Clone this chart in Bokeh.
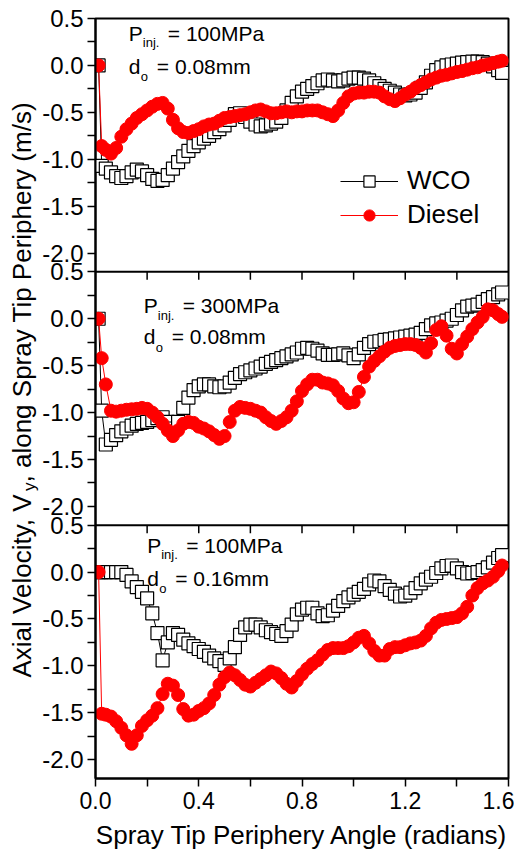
import math
from bokeh.plotting import figure
from bokeh.layouts import row
from bokeh.models import (Range1d, FixedTicker, PrintfTickFormatter, Span, Label,
                          Legend, LegendItem)
from bokeh.embed import file_html
from bokeh.resources import INLINE

# ---------------- data ----------------
ANGLE = [0.012, 0.024, 0.04, 0.06, 0.08, 0.10, 0.12, 0.14, 0.16, 0.18,
         0.20, 0.22, 0.24, 0.26, 0.28, 0.30, 0.32, 0.34, 0.36, 0.38,
         0.40, 0.42, 0.44, 0.46, 0.48, 0.50, 0.52, 0.54, 0.56, 0.58,
         0.60, 0.62, 0.64, 0.66, 0.68, 0.70, 0.72, 0.74, 0.76, 0.78,
         0.80, 0.82, 0.84, 0.86, 0.88, 0.90, 0.92, 0.94, 0.96, 0.98,
         1.00, 1.02, 1.04, 1.06, 1.08, 1.10, 1.12, 1.14, 1.16, 1.18,
         1.20, 1.22, 1.24, 1.26, 1.28, 1.30, 1.32, 1.34, 1.36, 1.38,
         1.40, 1.42, 1.44, 1.46, 1.48, 1.50, 1.52, 1.54, 1.56, 1.575]

# Panel 1: P_inj = 100 MPa, d_o = 0.08 mm
TOP_WCO = [0.0, -1.07, -1.10, -1.14, -1.18, -1.20, -1.18, -1.14, -1.11, -1.13,
           -1.17, -1.21, -1.23, -1.22, -1.17, -1.10, -1.03, -0.97, -0.91, -0.86,
           -0.82, -0.78, -0.75, -0.71, -0.68, -0.64, -0.58, -0.52, -0.51, -0.55,
           -0.60, -0.63, -0.65, -0.64, -0.62, -0.60, -0.56, -0.48, -0.40, -0.33,
           -0.28, -0.25, -0.22, -0.19, -0.16, -0.15, -0.16, -0.17, -0.16, -0.14,
           -0.13, -0.13, -0.14, -0.16, -0.19, -0.22, -0.25, -0.27, -0.29, -0.31,
           -0.32, -0.31, -0.29, -0.24, -0.18, -0.11, -0.05, -0.02, 0.0, 0.01,
           0.02, 0.03, 0.035, 0.04, 0.04, 0.035, 0.02, -0.01, -0.05, -0.08]
TOP_DIESEL = [0.0, -0.86, -0.90, -0.94, -0.88, -0.76, -0.68, -0.62, -0.56, -0.52,
              -0.48, -0.44, -0.41, -0.40, -0.46, -0.58, -0.67, -0.71, -0.72, -0.70,
              -0.68, -0.65, -0.63, -0.62, -0.59, -0.56, -0.55, -0.54, -0.53, -0.52,
              -0.50, -0.48, -0.47, -0.49, -0.51, -0.51, -0.50, -0.49, -0.50, -0.49,
              -0.49, -0.48, -0.48, -0.48, -0.50, -0.52, -0.54, -0.48, -0.40, -0.33,
              -0.30, -0.29, -0.29, -0.28, -0.28, -0.29, -0.33, -0.36, -0.38, -0.35,
              -0.31, -0.28, -0.24, -0.21, -0.18, -0.15, -0.13, -0.11, -0.10, -0.085,
              -0.07, -0.06, -0.045, -0.03, -0.02, 0.0, 0.01, 0.025, 0.04, 0.05]

# Panel 2: P_inj = 300 MPa, d_o = 0.08 mm
MID_WCO = [0.0, -0.98, -1.34, -1.29, -1.24, -1.20, -1.17, -1.14, -1.12, -1.11,
           -1.10, -1.08, -1.06, -1.05, -1.10, -1.17, -1.10, -0.95, -0.84, -0.76,
           -0.72, -0.70, -0.70, -0.72, -0.73, -0.72, -0.68, -0.63, -0.59, -0.57,
           -0.55, -0.53, -0.51, -0.48, -0.46, -0.44, -0.42, -0.40, -0.38, -0.36,
           -0.32, -0.31, -0.32, -0.34, -0.37, -0.385, -0.385, -0.38, -0.37, -0.39,
           -0.42, -0.38, -0.31, -0.27, -0.245, -0.24, -0.225, -0.22, -0.21, -0.20,
           -0.19, -0.18, -0.17, -0.15, -0.11, -0.07, -0.05, -0.04, -0.02, 0.0,
           0.04, 0.09, 0.13, 0.14, 0.15, 0.18, 0.21, 0.23, 0.26, 0.28]
MID_DIESEL = [0.0, -0.42, -0.70, -0.98, -0.99, -0.98, -0.97, -0.965, -0.96, -0.95,
              -0.96, -1.00, -1.05, -1.12, -1.19, -1.25, -1.19, -1.12, -1.10, -1.11,
              -1.15, -1.17, -1.20, -1.24, -1.28, -1.25, -1.10, -0.98, -0.94, -0.95,
              -0.96, -0.98, -1.00, -1.05, -1.09, -1.12, -1.09, -1.05, -0.98, -0.88,
              -0.77, -0.70, -0.65, -0.65, -0.68, -0.69, -0.71, -0.77, -0.85, -0.90,
              -0.89, -0.78, -0.62, -0.51, -0.45, -0.40, -0.35, -0.31, -0.29, -0.28,
              -0.27, -0.27, -0.28, -0.31, -0.36, -0.26, -0.12, -0.08, -0.18, -0.32,
              -0.37, -0.27, -0.19, -0.11, -0.04, 0.02, 0.10, 0.09, 0.05, 0.02]

# Panel 3: P_inj = 100 MPa, d_o = 0.16 mm
BOT_WCO = [0.0, 0.0, 0.0, 0.0, 0.0, 0.0, -0.03, -0.10, -0.16, -0.21,
           -0.28, -0.44, -0.65, -0.94, -0.75, -0.65, -0.67, -0.72, -0.76, -0.79,
           -0.82, -0.85, -0.89, -0.92, -0.95, -0.99, -0.92, -0.80, -0.67, -0.59,
           -0.56, -0.56, -0.59, -0.62, -0.64, -0.66, -0.68, -0.63, -0.56, -0.45,
           -0.40, -0.38, -0.38, -0.44, -0.47, -0.46, -0.41, -0.36, -0.31, -0.27,
           -0.24, -0.21, -0.18, -0.13, -0.09, -0.10, -0.15, -0.19, -0.23, -0.26,
           -0.25, -0.22, -0.17, -0.12, -0.08, -0.05, -0.01, 0.04, 0.065, 0.07,
           0.04, 0.0, -0.015, -0.01, 0.0, 0.02, 0.05, 0.10, 0.15, 0.18]
BOT_DIESEL = [0.0, -1.51, -1.52, -1.54, -1.59, -1.66, -1.74, -1.83, -1.74, -1.64,
              -1.58, -1.53, -1.45, -1.30, -1.19, -1.21, -1.31, -1.46, -1.53, -1.52,
              -1.48, -1.45, -1.40, -1.31, -1.20, -1.12, -1.07, -1.10, -1.15, -1.20,
              -1.22, -1.18, -1.14, -1.10, -1.06, -1.08, -1.13, -1.19, -1.23, -1.16,
              -1.09, -1.03, -0.98, -0.94, -0.88, -0.83, -0.81, -0.81, -0.81, -0.79,
              -0.75, -0.70, -0.68, -0.76, -0.84, -0.89, -0.89, -0.82, -0.80, -0.80,
              -0.78, -0.76, -0.75, -0.73, -0.68, -0.60, -0.54, -0.51, -0.50, -0.49,
              -0.48, -0.44, -0.37, -0.25, -0.17, -0.12, -0.09, -0.05, 0.01, 0.07]

PANEL_PRESSURE = ["100MPa", "300MPa", "100MPa"]
PANEL_DIAMETER = ["0.08mm", "0.08mm", "0.16mm"]
SERIES_NAMES = ["WCO", "Diesel"]

X_TICKS = [0.0, 0.4, 0.8, 1.2, 1.6]
X_MINOR = [0.2, 0.6, 1.0, 1.4]
Y_TICKS = [0.5, 0.0, -0.5, -1.0, -1.5, -2.0]
Y_MINOR = [0.25, -0.25, -0.75, -1.25, -1.75]

# ---------------- layout of the three stacked panels ----------------
Y_LO, Y_HI = -2.2, 0.5
SPAN = Y_HI - Y_LO
N_PANELS = 3
RANGE_NAMES = ["default", "mid", "bot"]
SHIFT = [i * SPAN for i in range(N_PANELS)]

FONT = "Liberation Sans"
TITLE_W = 39
FRAME_LEFT = 95
FRAME_TOP = 18
FRAME_H = 760
BORDER_BOTTOM = 74
MID_FRAC = 0.3465   # distance of the text-box middle above the baseline, in em

p = figure(frame_width=413, frame_height=FRAME_H,
           x_range=Range1d(0, 1.6),
           y_range=Range1d(Y_LO - (N_PANELS - 1) * SPAN, Y_HI),
           output_backend="svg", toolbar_location=None,
           min_border_left=FRAME_LEFT - TITLE_W, min_border_top=FRAME_TOP,
           min_border_right=6, min_border_bottom=BORDER_BOTTOM)
p.extra_y_ranges = {
    "mid": Range1d(Y_LO - (N_PANELS - 1) * SPAN + SHIFT[1], Y_HI + SHIFT[1]),
    "bot": Range1d(Y_LO - (N_PANELS - 1) * SPAN + SHIFT[2], Y_HI + SHIFT[2]),
}

p.xgrid.visible = False
p.ygrid.visible = False
p.outline_line_color = "black"
p.outline_line_width = 2
p.outline_line_alpha = 1.0
p.background_fill_color = "white"
p.border_fill_color = "white"

# y axis: one axis carrying the ticks of all three panels
major = []
overrides = {}
minor = []
for s in SHIFT:
    for v in Y_TICKS:
        tk = round(v - s, 4)
        major.append(tk)
        overrides[tk] = f"{v:.1f}"
    for v in Y_MINOR:
        minor.append(round(v - s, 4))
yax = p.yaxis[0]
yax.ticker = FixedTicker(ticks=major, minor_ticks=minor)
yax.major_label_overrides = overrides
yax.axis_line_color = "black"
yax.axis_line_width = 2
yax.major_tick_out = 8
yax.major_tick_in = 0
yax.minor_tick_out = 8
yax.minor_tick_in = 0
yax.major_tick_line_width = 1.5
yax.minor_tick_line_width = 1.5
yax.major_label_text_font = FONT
yax.major_label_text_font_size = "24px"
yax.major_label_text_color = "black"
yax.major_label_standoff = 4

xax = p.xaxis[0]
xax.ticker = FixedTicker(ticks=X_TICKS, minor_ticks=X_MINOR)
xax.formatter = PrintfTickFormatter(format="%.1f")
xax.axis_line_color = "black"
xax.axis_line_width = 2
xax.major_tick_out = 8
xax.major_tick_in = 0
xax.minor_tick_out = 8
xax.minor_tick_in = 0
xax.major_tick_line_width = 1.5
xax.minor_tick_line_width = 1.5
xax.major_label_text_font = FONT
xax.major_label_text_font_size = "23px"
xax.major_label_text_color = "black"
xax.major_label_standoff = 5
xax.axis_label = "Spray Tip Periphery Angle (radians)"
xax.axis_label_text_font = FONT
xax.axis_label_text_font_size = "26px"
xax.axis_label_text_font_style = "normal"
xax.axis_label_text_color = "black"
xax.axis_label_standoff = 8

# panel separators with their downward ticks
tick_len = 8 * (N_PANELS * SPAN) / FRAME_H
inner_ticks = X_TICKS[1:-1] + X_MINOR
for k in range(1, N_PANELS):
    b = Y_LO - (k - 1) * SPAN
    p.add_layout(Span(location=b, dimension="width", line_color="black", line_width=2))
    p.segment(x0=inner_ticks, y0=[b] * len(inner_ticks), x1=inner_ticks,
              y1=[b - tick_len] * len(inner_ticks), line_color="black", line_width=1.5)

panels = [(TOP_WCO, TOP_DIESEL), (MID_WCO, MID_DIESEL), (BOT_WCO, BOT_DIESEL)]
legend_renderers = None
for i, (wco, dsl) in enumerate(panels):
    rn = RANGE_NAMES[i]
    l1 = p.line(ANGLE, wco, line_color="black", line_width=1, y_range_name=rn)
    s1 = p.scatter(ANGLE, wco, marker="square", size=13, fill_color="white",
                   line_color="black", line_width=1.2, y_range_name=rn)
    l2 = p.line(ANGLE, dsl, line_color="red", line_width=1, y_range_name=rn)
    s2 = p.scatter(ANGLE, dsl, marker="circle", size=13, fill_color="red",
                   line_color="red", line_width=1, y_range_name=rn)
    if i == 0:
        legend_renderers = ([l1, s1], [l2, s2])

legend = Legend(items=[LegendItem(label=SERIES_NAMES[0], renderers=legend_renderers[0]),
                       LegendItem(label=SERIES_NAMES[1], renderers=legend_renderers[1])],
                location=(245, 548), glyph_width=58, glyph_height=28, label_height=28,
                label_standoff=9, spacing=3, padding=0, margin=0,
                border_line_color=None, background_fill_alpha=0,
                label_text_font=FONT, label_text_font_size="26px",
                label_text_color="black")
p.add_layout(legend)

# in-panel annotations: P_inj. = ...  and d_o = ...  (y = baseline of the main text)
ann_x = [0.129, 0.187, 0.200]
ann_p_y = [0.266, 0.066, 0.209]
ann_d_y = [-0.086, -0.264, -0.143]
BIG, SMALL = 21, 13
big_mid = MID_FRAC * BIG
small_mid = MID_FRAC * SMALL
for i in range(N_PANELS):
    rn = RANGE_NAMES[i]
    common = dict(x=ann_x[i], y_range_name=rn, text_font=FONT, text_color="black",
                  text_align="left", text_baseline="middle")
    p.add_layout(Label(y=ann_p_y[i], text="P", y_offset=big_mid,
                       text_font_size=f"{BIG}px", **common))
    p.add_layout(Label(y=ann_p_y[i], text="inj.", x_offset=14, y_offset=-7 + small_mid,
                       text_font_size=f"{SMALL}px", **common))
    p.add_layout(Label(y=ann_p_y[i], text="= " + PANEL_PRESSURE[i], x_offset=39,
                       y_offset=big_mid, text_font_size=f"{BIG}px", **common))
    p.add_layout(Label(y=ann_d_y[i], text="d", y_offset=big_mid,
                       text_font_size=f"{BIG}px", **common))
    p.add_layout(Label(y=ann_d_y[i], text="o", x_offset=12, y_offset=-8 + small_mid,
                       text_font_size=f"{SMALL}px", **common))
    p.add_layout(Label(y=ann_d_y[i], text="= " + PANEL_DIAMETER[i], x_offset=28,
                       y_offset=big_mid, text_font_size=f"{BIG}px", **common))

# ---------------- narrow strip holding the rotated y-axis title ----------------
# its frame is aligned with the main frame; y is measured in pixels from the page top
t = figure(frame_width=TITLE_W, frame_height=FRAME_H,
           x_range=Range1d(0, TITLE_W),
           y_range=Range1d(FRAME_TOP + FRAME_H, FRAME_TOP),
           x_axis_location=None, y_axis_location=None,
           output_backend="svg", toolbar_location=None,
           min_border_left=0, min_border_right=0, min_border_top=FRAME_TOP,
           min_border_bottom=BORDER_BOTTOM)
t.xgrid.visible = False
t.ygrid.visible = False
t.outline_line_color = None
t.background_fill_color = "white"
t.border_fill_color = "white"
TITLE_BASE_X = 31          # baseline position of the rotated title
TITLE_F, SUB_F = 26, 17
title_x = TITLE_BASE_X - MID_FRAC * TITLE_F
sub_x_off = (TITLE_BASE_X + 4 - MID_FRAC * SUB_F) - title_x
title_common = dict(x=title_x, angle=math.pi / 2, angle_units="rad", text_font=FONT,
                    text_color="black", text_align="left", text_baseline="middle")
t.add_layout(Label(y=677, text="Axial Velocity, V", text_font_size=f"{TITLE_F}px",
                   **title_common))
t.add_layout(Label(y=490.6, text="y", x_offset=sub_x_off, text_font_size=f"{SUB_F}px",
                   **title_common))
t.add_layout(Label(y=482, text=", along Spray Tip Periphery (m/s)",
                   text_font_size=f"{TITLE_F}px", **title_common))

layout = row(t, p)
open("out.html", "w").write(file_html(layout, INLINE))
